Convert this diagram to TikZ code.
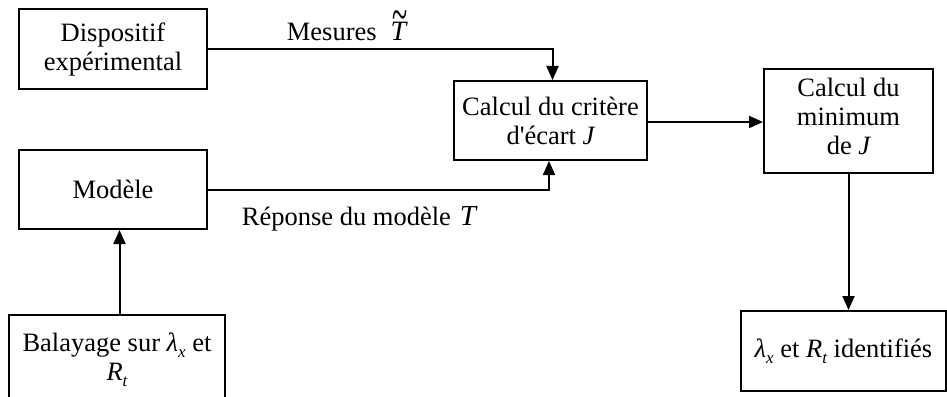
\documentclass[tikz,border=0pt]{standalone}
\usepackage{fontspec}
\usepackage{graphicx}
\setmainfont{Liberation Serif}
\usetikzlibrary{arrows.meta}
\newcommand{\subit}[1]{\raisebox{-6pt}{\fontsize{17}{17}\selectfont\itshape #1}}
\newcommand{\Ttil}{\makebox[0pt][l]{\hspace{1.5pt}\raisebox{9pt}{\scalebox{1}[1.8]{\char"7E}}}{\itshape T}}
\begin{document}
\begin{tikzpicture}[x=1pt,y=-1pt,
  box/.style={draw, line width=2pt, rectangle, inner sep=0pt, align=center,
    font=\fontsize{26.5}{29}\selectfont},
  lbl/.style={inner sep=0pt, font=\fontsize{26.5}{29}\selectfont},
  arr/.style={line width=2pt, -{Triangle[length=14pt,width=12pt]}}]
\useasboundingbox (0,0) rectangle (947,396);
\node[box, minimum width=188pt, minimum height=80pt] (disp) at (113,49) {Dispositif\\expérimental};
\node[box, minimum width=188pt, minimum height=79pt] (mod) at (113,189.5) {Modèle};
\node[box, minimum width=216pt, minimum height=90pt] (bal) at (117,360) {Balayage sur {\itshape λ}\subit{x} et\\{\itshape R}\subit{t}};
\node[box, minimum width=193pt, minimum height=79pt] (crit) at (550.5,120.5) {Calcul du critère\\d\textquotesingle écart {\itshape J}};
\node[box, minimum width=169pt, minimum height=104pt] (min) at (848.5,121) {Calcul du\\minimum\\de {\itshape J}\rule[-10pt]{0pt}{10pt}};
\node[box, minimum width=205pt, minimum height=80pt] (id) at (843.5,351) {{\itshape λ}\subit{x} et {\itshape R}\subit{t} identifiés};
\node[lbl, anchor=base west] (mes) at (286.7,40.7) {Mesures\hspace{14pt}{\fontsize{28}{28}\selectfont\Ttil}};
\node[lbl, anchor=base west] (rep) at (241.7,225) {Réponse du modèle\hspace{9pt}{\fontsize{29}{29}\selectfont\itshape T}};
\draw[arr] (disp.east) -| ([xshift=2pt]crit.north);
\draw[arr] (mod.east) -| ([xshift=-1.5pt]crit.south);
\draw[arr] ([yshift=-1.5pt]crit.east) -- ([yshift=-1.5pt]crit.east -| min.west);
\draw[arr] (min.south) -- (min.south |- id.north);
\draw[arr] ([xshift=2.5pt]bal.north) -- ([xshift=2.5pt]bal.north |- mod.south);
\end{tikzpicture}
\end{document}
